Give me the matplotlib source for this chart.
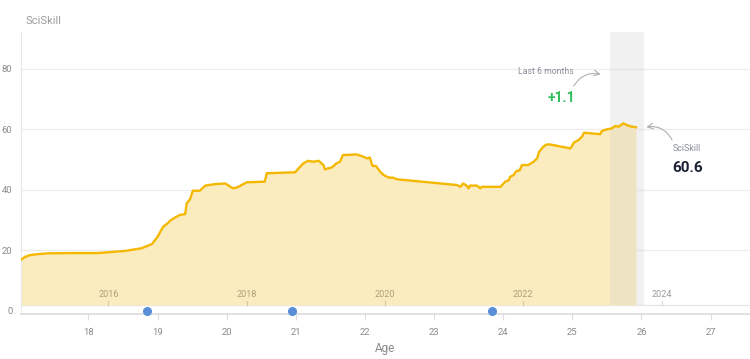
import matplotlib
matplotlib.use("Agg")
import matplotlib.pyplot as plt

plt.rcParams['font.family'] = ['Roboto', 'DejaVu Sans']

# ---- data ----
ages = [17.02, 17.08, 17.15, 17.25, 17.41, 17.8, 18.14, 18.53, 18.77, 18.92, 19.0, 19.08, 19.15, 19.18,
        19.25, 19.32, 19.40, 19.42, 19.47, 19.51, 19.61, 19.69, 19.83, 19.98, 20.09, 20.16,
        20.29, 20.55, 20.58, 20.99, 21.04, 21.11, 21.18, 21.25, 21.33, 21.40, 21.42, 21.52,
        21.59, 21.64, 21.68, 21.88, 21.95, 22.03, 22.07, 22.11, 22.16, 22.22, 22.27, 22.34,
        22.41, 22.46, 23.33, 23.38, 23.42, 23.47, 23.50, 23.52, 23.62, 23.67, 23.69, 23.96,
        24.03, 24.08, 24.10, 24.15, 24.19, 24.24, 24.27, 24.36, 24.44, 24.49, 24.52, 24.58,
        24.63, 24.68, 24.97, 24.99, 25.02, 25.09, 25.14, 25.17, 25.40, 25.43, 25.47, 25.50,
        25.57, 25.62, 25.67, 25.74, 25.79, 25.86, 25.92]
sciskill = [16.7, 17.7, 18.3, 18.6, 18.9, 19.0, 19.0, 19.7, 20.6, 22.0, 24.4, 27.7, 28.9, 29.7,
            30.7, 31.6, 31.9, 35.4, 36.8, 39.6, 39.6, 41.3, 41.8, 42.0, 40.4, 40.8,
            42.4, 42.6, 45.4, 45.7, 47.0, 48.7, 49.5, 49.2, 49.5, 48.1, 46.7, 47.3,
            48.7, 49.2, 51.4, 51.6, 51.1, 50.3, 50.6, 47.8, 47.8, 45.9, 44.8, 44.0,
            43.9, 43.4, 41.5, 40.9, 42.0, 41.3, 40.4, 41.3, 41.3, 40.4, 40.9, 40.9,
            42.6, 43.1, 44.2, 44.8, 46.1, 46.4, 48.1, 48.1, 49.2, 50.3, 52.5, 54.2,
            54.9, 54.9, 53.6, 54.2, 55.5, 56.4, 57.5, 58.8, 58.3, 59.4, 59.7, 59.9,
            60.2, 61.0, 60.8, 61.9, 61.3, 60.8, 60.6]
event_ages = [18.85, 20.95, 23.84]
year_labels = [2016, 2018, 2020, 2022, 2024]
year_ages = [18.29, 20.29, 22.29, 24.29, 26.29]
x_ticks = [18, 19, 20, 21, 22, 23, 24, 25, 26, 27]
y_ticks = [0, 20, 40, 60, 80]
band = (25.54, 26.04)
last_value = "60.6"
change_text = "+1.1"

# ---- figure ----
fig = plt.figure(figsize=(7.5, 3.59), dpi=100)
ax = fig.add_axes([0.0276, 0.1253, 1 - 0.0276, 0.9117 - 0.1253])
ymin, ymax = -1.16, 92.2
base = 1.8
ax.set_xlim(17.02, 27.57)
ax.set_ylim(ymin, ymax)

grid_c = '#ececec'
for v in y_ticks[1:]:
    ax.axhline(v, color=grid_c, lw=0.9, zorder=0)
ax.axhline(base, color='#e6e6e6', lw=1.0, zorder=1)

ax.fill_between(ages, sciskill, base, color='#fbecbf', lw=0, zorder=2)
ax.plot(ages, sciskill, color='#f5b800', lw=1.7, zorder=4, solid_joinstyle='round')

band_ymin = (base - ymin) / (ymax - ymin)
ax.axvspan(band[0], band[1], ymin=band_ymin, ymax=1, color='#cfcfcf', alpha=0.28, lw=0, zorder=3)

# event dots
ax.plot(event_ages, [0] * len(event_ages), 'o', color='#5b8ed8', ms=5.5, zorder=5, clip_on=False)

# year ticks / labels
for yl, ya in zip(year_labels, year_ages):
    ax.plot([ya, ya], [base, base + 1.3], color='#d2c8a8' if ya < 25.92 else '#d8d8d8', lw=0.8, zorder=3)
    ax.text(ya, 5.4, str(yl), ha='center', va='center', fontsize=6.5,
            color='#ad9f7c' if ya < 25.92 else '#9a9a9a', zorder=4)

# axes styling
for s in ['top', 'right']:
    ax.spines[s].set_visible(False)
ax.spines['left'].set_color('#e8e8e8')
ax.spines['bottom'].set_color('#dcdcdc')
ax.spines['bottom'].set_linewidth(1.2)
ax.set_xticks(x_ticks)
ax.set_yticks(y_ticks)
ax.tick_params(axis='x', length=4, width=0.8, color='#dcdcdc', pad=6, labelsize=6.8, labelcolor='#8a8a8a')
ax.tick_params(axis='y', length=0, pad=6, labelsize=6.8, labelcolor='#8a8a8a')
ax.set_xlabel('Age', fontsize=8.5, color='#8a8a8a', labelpad=4)

fig.text(26 / 750, 1 - 21 / 359, 'SciSkill', fontsize=8, color='#9a9a9a', ha='left', va='center')

# annotations
ax.text(24.62, 79.0, 'Last 6 months', fontsize=6.3, color='#8a8f9a', ha='center', va='center')
ax.text(24.84, 70.3, change_text, fontsize=10, color='#2ebd59', fontweight='bold', ha='center', va='center')
ax.annotate('', xy=(25.45, 77.9), xytext=(25.0, 73.4),
            arrowprops=dict(arrowstyle='->', color='#b0b0b0', lw=0.8,
                            connectionstyle='arc3,rad=-0.4'))

ax.text(26.45, 53.7, 'SciSkill', fontsize=6.5, color='#8a8f9a', ha='left', va='center')
ax.text(26.45, 47.2, last_value, fontsize=11, color='#1a2033', fontweight='bold', ha='left', va='center')
ax.annotate('', xy=(26.03, 60.5), xytext=(26.46, 55.6),
            arrowprops=dict(arrowstyle='->', color='#b0b0b0', lw=0.8,
                            connectionstyle='arc3,rad=0.4'))

fig.savefig('out.png', dpi=100)
